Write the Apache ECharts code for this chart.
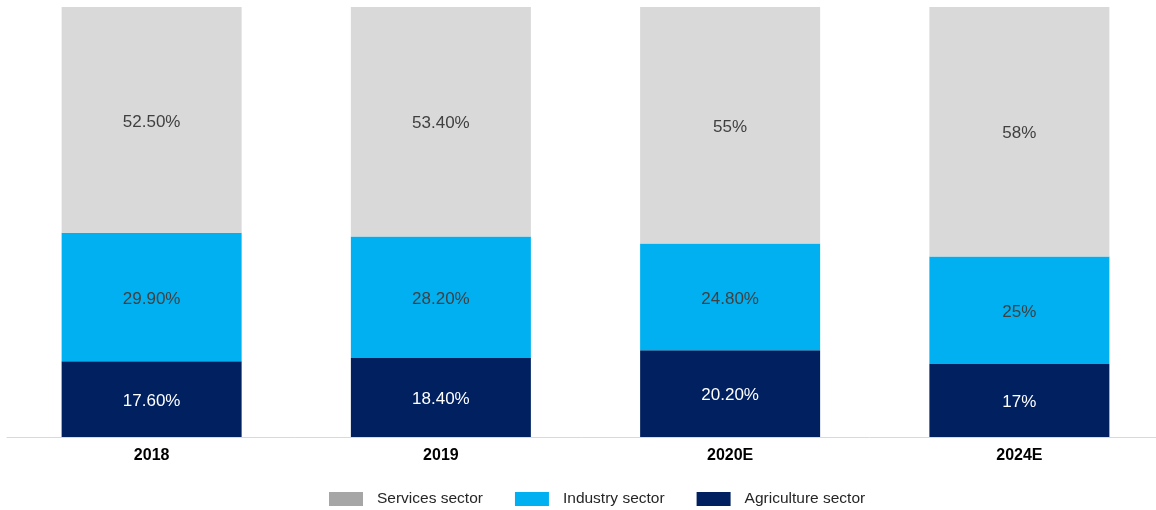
<!DOCTYPE html>
<html>
<head>
<meta charset="utf-8">
<style>
  html, body { margin: 0; padding: 0; background: #ffffff; }
  #chart { width: 1156px; height: 510px; }
</style>
<script src="https://cdn.jsdelivr.net/npm/echarts@6/dist/echarts.min.js"></script>
</head>
<body>
<div id="chart"></div>
<script>
// Sector share of the economy, percent of total
const years = ['2018', '2019', '2020E', '2024E'];
const agriculture = [17.6, 18.4, 20.2, 17];
const industry = [29.9, 28.2, 24.8, 25];
const services = [52.5, 53.4, 55, 58];
const agricultureLabels = ['17.60%', '18.40%', '20.20%', '17%'];
const industryLabels = ['29.90%', '28.20%', '24.80%', '25%'];
const servicesLabels = ['52.50%', '53.40%', '55%', '58%'];

const FONT = '"Liberation Sans", Arial, sans-serif';

function segment(name, values, texts, color, labelColor) {
  return {
    name: name,
    type: 'bar',
    stack: 'total',
    barWidth: 180,
    data: values,
    itemStyle: { color: color },
    label: {
      show: true,
      position: 'inside',
      offset: [0, 2],
      color: labelColor,
      fontFamily: FONT,
      fontSize: 17,
      formatter: p => texts[p.dataIndex]
    },
    emphasis: { disabled: true }
  };
}

const chart = echarts.init(document.getElementById('chart'), null, { renderer: 'canvas' });
chart.setOption({
  animation: false,
  // the last category slot runs a little past the right edge of the canvas
  grid: { left: 7, top: 7, right: -8, bottom: 73, containLabel: false, outerBoundsMode: 'none' },
  legend: {
    left: 329,
    top: 491,
    padding: 0,
    icon: 'rect',
    itemWidth: 34,
    itemHeight: 14,
    itemGap: 32,
    textStyle: { fontFamily: FONT, fontSize: 15.5, color: '#262626', padding: [0, 0, 0, 9] },
    data: [
      { name: 'Services sector', itemStyle: { color: '#A6A6A6' } },
      { name: 'Industry sector' },
      { name: 'Agriculture sector' }
    ]
  },
  xAxis: {
    type: 'category',
    data: years,
    axisLine: { lineStyle: { color: '#D9D9D9', width: 1 } },
    axisTick: { show: false },
    axisLabel: { color: '#000000', fontFamily: FONT, fontSize: 16, fontWeight: 'bold', margin: 11 }
  },
  yAxis: {
    type: 'value',
    min: 0,
    max: 100,
    show: false,
    splitLine: { show: false }
  },
  series: [
    segment('Agriculture sector', agriculture, agricultureLabels, '#002060', '#FFFFFF'),
    segment('Industry sector', industry, industryLabels, '#00B0F0', '#404040'),
    segment('Services sector', services, servicesLabels, '#D9D9D9', '#404040')
  ]
});
</script>
</body>
</html>
